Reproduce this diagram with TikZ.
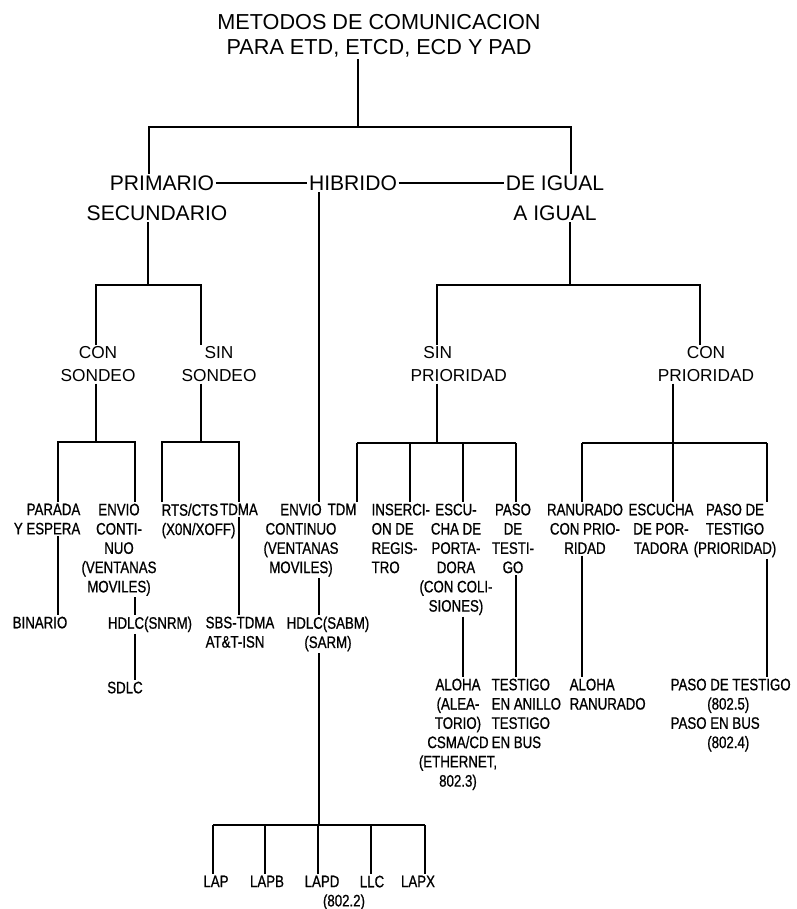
\documentclass[tikz,border=0pt]{standalone}
\usepackage{fontspec}
\setmainfont{Liberation Sans}
\newfontfamily\angosta[FakeStretch=0.8,FakeBold=0.8]{Liberation Sans}

\begin{document}
\begin{tikzpicture}[x=0.025cm,y=-0.025cm,conector/.style={line width=1.1pt},titulo/.style={font=\fontsize{15.4}{17.8}\selectfont,align=center,inner sep=1pt},nivel/.style={font=\fontsize{15}{18}\selectfont,inner sep=1pt},rama/.style={font=\fontsize{12.3}{16.4}\selectfont,align=center,inner sep=1pt,anchor=north},hoja/.style={font=\angosta\fontsize{11.8}{13.7}\selectfont,align=center,inner sep=1pt,anchor=north}]
\useasboundingbox (0,0) rectangle (797,909);
% titulo y primer nivel
\node[titulo] (metodos) at (379,36) {METODOS DE COMUNICACION\\PARA ETD, ETCD, ECD Y PAD};
\node[nivel] (prim) at (162,183) {PRIMARIO};
\node[nivel] (secund) at (157,213) {SECUNDARIO};
\node[nivel] (hib) at (353,183) {HIBRIDO};
\node[nivel] (igual) at (555,183) {DE IGUAL};
\node[nivel] (igual2) at (555,213) {A IGUAL};
% segundo nivel
\node[rama] (consond) at (98,345) {CON\\SONDEO};
\node[rama] (sinsond) at (219,345) {SIN\\SONDEO};
\node[rama,align=left,anchor=north west] (sinprio) at (409,345) {\hspace*{9pt}SIN\\PRIORIDAD};
\node[rama] (conprio) at (706,345) {CON\\PRIORIDAD};
% tercer nivel
\node[hoja,align=right,anchor=north east] (parada) at (82,502) {PARADA\\Y ESPERA};
\node[hoja] (envio1) at (119,502) {ENVIO\\CONTI-\\NUO\\(VENTANAS\\MOVILES)};
\node[hoja,align=left,anchor=north west] (rts) at (160,502) {RTS/CTS\\(X0N/XOFF)};
\node[hoja] (tdma) at (239,502) {TDMA};
\node[hoja] (envio2) at (301,502) {ENVIO\\CONTINUO\\(VENTANAS\\MOVILES)};
\node[hoja] (tdm) at (342,502) {TDM};
\node[hoja,align=left,anchor=north west] (inser) at (370,502) {INSERCI-\\ON DE\\REGIS-\\TRO};
\node[hoja] (escu) at (456,502) {ESCU-\\CHA DE\\PORTA-\\DORA\\(CON COLI-\\SIONES)};
\node[hoja] (paso) at (513,502) {PASO\\DE\\TESTI-\\GO};
\node[hoja] (ranur) at (585,502) {RANURADO\\CON PRIO-\\RIDAD};
\node[hoja] (escucha) at (661,502) {ESCUCHA\\DE POR-\\TADORA};
\node[hoja] (pasode) at (735,502) {PASO DE\\TESTIGO\\(PRIORIDAD)};
% cuarto nivel
\node[hoja] (binario) at (40,615) {BINARIO};
\node[hoja] (snrm) at (150,615) {HDLC(SNRM)};
\node[hoja,align=left,anchor=north west] (sbs) at (204,615) {SBS-TDMA\\AT\&T-ISN};
\node[hoja] (sabm) at (328,615) {HDLC(SABM)\\(SARM)};
\node[hoja] (sdlc) at (125,680) {SDLC};
\node[hoja] (aloha) at (458,677) {ALOHA\\(ALEA-\\TORIO)\\CSMA/CD\\(ETHERNET,\\802.3)};
\node[hoja,align=left,anchor=north west] (anillo) at (490,677) {TESTIGO\\EN ANILLO\\TESTIGO\\EN BUS};
\node[hoja,align=left,anchor=north west] (alohar) at (568,677) {ALOHA\\RANURADO};
\node[hoja,align=left,anchor=north west] (pasotest) at (669,677) {PASO DE TESTIGO\\\hspace*{26pt}(802.5)\\PASO EN BUS\\\hspace*{26pt}(802.4)};
\node[hoja] (lap) at (216,874) {LAP};
\node[hoja] (lapb) at (267,874) {LAPB};
\node[hoja,align=left,anchor=north west] (lapd) at (303,874) {LAPD\\\hspace*{13pt}(802.2)};
\node[hoja] (llc) at (372,874) {LLC};
\node[hoja] (lapx) at (418,874) {LAPX};
% barras
\coordinate (r0) at (358,127);
\coordinate (r1) at (149,127);
\coordinate (r2) at (571,127);
\coordinate (s0) at (148,285);
\coordinate (s1) at (96,285);
\coordinate (s2) at (201,285);
\coordinate (i0) at (570,285);
\coordinate (i1) at (437,285);
\coordinate (i2) at (700,285);
\coordinate (c0) at (96,442);
\coordinate (c1) at (58,442);
\coordinate (c2) at (135,442);
\coordinate (t0) at (201,442);
\coordinate (t1) at (162,442);
\coordinate (t2) at (239,442);
\coordinate (p0) at (437,443);
\foreach \n/\x in {tdm/357,inser/410,escu/463,paso/516}
  \coordinate (p-\n) at (\x,443);
\coordinate (q0) at (673,443);
\foreach \n/\x in {ranur/582,escucha/673,pasode/767}
  \coordinate (q-\n) at (\x,443);
\coordinate (h0) at (319,825);
\foreach \n/\x in {lap/213,lapb/265,lapd/318,llc/371,lapx/425}
  \coordinate (h-\n) at (\x,825);
% conectores
\draw[conector] (metodos.south -| r0) -- (r0);
\draw[conector] (prim.north -| r1) -- (r1) -- (r2) -- (igual.north -| r2);
\draw[conector] (prim.east) -- (hib.west);
\draw[conector] (hib.east) -- (igual.west);
\draw[conector] (secund.south -| s0) -- (s0);
\draw[conector] (consond.north -| s1) -- (s1) -- (s2) -- (sinsond.north -| s2);
\draw[conector] (igual2.south -| i0) -- (i0);
\draw[conector] (sinprio.north -| i1) -- (i1) -- (i2) -- (conprio.north -| i2);
\draw[conector] (consond.south -| c0) -- (c0);
\draw[conector] (parada.north -| c1) -- (c1) -- (c2) -- (envio1.north -| c2);
\draw[conector] (parada.south -| c1) -- (binario.north -| c1);
\draw[conector] (envio1.south -| c2) -- (snrm.north -| c2);
\draw[conector] (snrm.south -| c2) -- (sdlc.north -| c2);
\draw[conector] (sinsond.south -| t0) -- (t0);
\draw[conector] (rts.north -| t1) -- (t1) -- (t2) -- (tdma.north -| t2);
\draw[conector] (tdma.south -| t2) -- (sbs.north -| t2);
\draw[conector] (sinprio.south -| p0) -- (p0);
\draw[conector] (p-tdm) -- (p-paso);
\foreach \n in {tdm,inser,escu,paso}
  \draw[conector] (p-\n) -- (\n.north -| p-\n);
\draw[conector] (escu.south -| p-escu) -- (aloha.north -| p-escu);
\draw[conector] (paso.south -| p-paso) -- (anillo.north -| p-paso);
\draw[conector] (conprio.south -| q0) -- (q0);
\draw[conector] (q-ranur) -- (q-pasode);
\foreach \n in {ranur,escucha,pasode}
  \draw[conector] (q-\n) -- (\n.north -| q-\n);
\draw[conector] (ranur.south -| q-ranur) -- (alohar.north -| q-ranur);
\draw[conector] (pasode.south -| q-pasode) -- (pasotest.north -| q-pasode);
\draw[conector] (hib.south -| h0) -- (envio2.north -| h0);
\draw[conector] (envio2.south -| h0) -- (sabm.north -| h0);
\draw[conector] (sabm.south -| h0) -- (h0);
\draw[conector] (h-lap) -- (h-lapx);
\foreach \n in {lap,lapb,lapd,llc,lapx}
  \draw[conector] (h-\n) -- (\n.north -| h-\n);
\end{tikzpicture}
\end{document}
